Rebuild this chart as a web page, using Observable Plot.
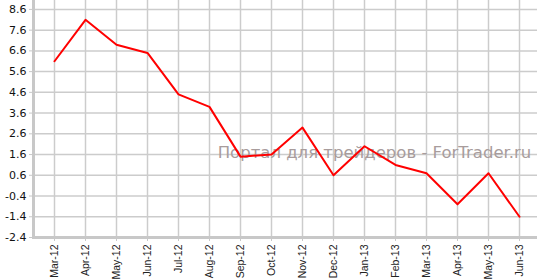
<!DOCTYPE html>
<html><head><meta charset="utf-8">
<script src="https://cdn.jsdelivr.net/npm/d3@7"></script>
<script src="https://cdn.jsdelivr.net/npm/@observablehq/plot@0.6"></script>
<style>body{margin:0;background:#fff;} svg{display:block;}</style>
</head><body><div id="chart"></div>
<script>
const months = ["Mar-12","Apr-12","May-12","Jun-12","Jul-12","Aug-12","Sep-12","Oct-12","Nov-12","Dec-12","Jan-13","Feb-13","Mar-13","Apr-13","May-13","Jun-13"];
const values = [6.1,8.1,6.9,6.5,4.5,3.9,1.5,1.6,2.9,0.6,2.0,1.1,0.7,-0.8,0.7,-1.4];
const yTicks = [-2.4,-1.4,-0.4,0.6,1.6,2.6,3.6,4.6,5.6,6.6,7.6,8.6];
const watermark = "Портал для трейдеров - ForTrader.ru";
const data = months.map((m,i)=>({month:m,value:values[i]}));

const chart = Plot.plot({
  width: 537, height: 280,
  marginLeft: 33, marginRight: 0, marginTop: 0, marginBottom: 43,
  style: {fontFamily: "DejaVu Sans, Verdana, sans-serif", fontSize: "10px", background: "#fff"},
  x: {type: "point", domain: months, range: [50, 523], padding: 0, label: null},
  y: {domain: [-2.4, 9.03], label: null},
  marks: [
    Plot.gridX(months, {stroke: "#cccccc", strokeOpacity: 1, strokeWidth: 1.5}),
    Plot.gridY(yTicks, {stroke: "#cccccc", strokeOpacity: 1, strokeWidth: 1.5}),
    Plot.frame({anchor: "left", stroke: "#c8c8c8", strokeWidth: 3}),
    Plot.frame({anchor: "bottom", stroke: "#c8c8c8", strokeWidth: 3}),
    Plot.axisY(yTicks, {label: null, tickSize: 4, tickFormat: d => d.toFixed(1), fontSize: 11, fontWeight: 500, fill: "#111", stroke: "#c8c8c8", tickPadding: 3}),
    Plot.axisX(months, {label: null, tickSize: 4, tickRotate: -90, tickPadding: 3, fill: "#222", stroke: "#c8c8c8", fontSize: 10.5, fontFamily: "Liberation Sans, Arial, sans-serif"}),
    Plot.text([watermark], {x: () => "Jan-13", y: () => 1.7, dx: 10, text: d => d, fontSize: 16.5, fill: "#a89c9c", fontFamily: "DejaVu Sans, Verdana, sans-serif"}),
    Plot.line(data, {x: "month", y: "value", stroke: "#ff0000", strokeWidth: 2})
  ]
});
document.getElementById("chart").append(chart);
</script></body></html>
